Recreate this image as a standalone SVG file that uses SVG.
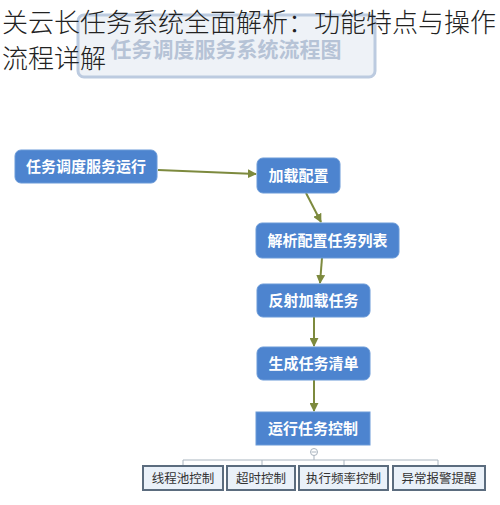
<svg xmlns="http://www.w3.org/2000/svg" width="500" height="505" viewBox="0 0 500 505">
<defs>
<style>
.title{font-family:"Noto Sans CJK SC","Noto Sans",sans-serif;font-size:26px;fill:#222;font-weight:300}
.node rect{fill:#4d84cf;stroke:#6a9ad8;stroke-width:1}
.node text{font-family:"Noto Sans CJK SC",sans-serif;font-size:15px;font-weight:bold;fill:#fff;text-anchor:middle}
.sub rect{fill:#eaf1f9;stroke:#5b6c7e;stroke-width:2}
.sub text{font-family:"Noto Sans CJK SC",sans-serif;font-size:12.5px;fill:#333;text-anchor:middle}
.conn{stroke:#7d8a3e;stroke-width:2;fill:none}
.tree{stroke:#a9b4bf;stroke-width:1;fill:none}
</style>
<marker id="arr" viewBox="0 0 10 10" refX="9" refY="5" markerWidth="9" markerHeight="9" orient="auto" markerUnits="userSpaceOnUse">
<path d="M0,0 L10,5 L0,10 z" fill="#7d8a3e"/>
</marker>
</defs>
<rect width="500" height="505" fill="#fff"/>
<g id="header">
<rect x="78" y="15" width="297" height="62" rx="6" fill="#eef2f7" stroke="#bccbe0" stroke-width="3"/>
<text x="226" y="57" font-family="Noto Sans CJK SC,sans-serif" font-size="21" font-weight="bold" fill="#b6c3d6" text-anchor="middle">任务调度服务系统流程图</text>
</g>
<g id="title">
<text class="title" x="2" y="32">关云长任务系统全面解析：功能特点与操作</text>
<text class="title" x="2" y="68">流程详解</text>
</g>
<g id="connectors">
<line class="conn" x1="158" y1="170" x2="256" y2="174" marker-end="url(#arr)"/>
<line class="conn" x1="306" y1="193" x2="321" y2="222" marker-end="url(#arr)"/>
<line class="conn" x1="322" y1="258" x2="320" y2="283" marker-end="url(#arr)"/>
<line class="conn" x1="314" y1="317" x2="314" y2="346" marker-end="url(#arr)"/>
<line class="conn" x1="314" y1="380" x2="314" y2="411" marker-end="url(#arr)"/>
<path class="tree" d="M183,466 V460 H438 V466 M262,460 V466 M344,460 V466 M314,455 V460"/>
<circle cx="314" cy="452" r="3.5" fill="#fff" stroke="#a9b4bf" stroke-width="1"/>
<line x1="311.5" y1="452" x2="316.5" y2="452" stroke="#a9b4bf" stroke-width="1"/>
</g>
<g id="n1" class="node"><rect x="15" y="150" width="142" height="33" rx="6"/><text x="86" y="172">任务调度服务运行</text></g>
<g id="n2" class="node"><rect x="257" y="158" width="83" height="35" rx="6"/><text x="298.5" y="181">加载配置</text></g>
<g id="n3" class="node"><rect x="256" y="223" width="143" height="35" rx="6"/><text x="327.5" y="246">解析配置任务列表</text></g>
<g id="n4" class="node"><rect x="257" y="284" width="113" height="33" rx="6"/><text x="313.5" y="306">反射加载任务</text></g>
<g id="n5" class="node"><rect x="257" y="347" width="113" height="33" rx="6"/><text x="313.5" y="369">生成任务清单</text></g>
<g id="n6" class="node"><rect x="256" y="412" width="114" height="33" rx="0"/><text x="313" y="434">运行任务控制</text></g>
<g id="s1" class="sub"><rect x="143" y="466" width="80" height="24"/><text x="183" y="483">线程池控制</text></g>
<g id="s2" class="sub"><rect x="227" y="466" width="68" height="24"/><text x="261" y="483">超时控制</text></g>
<g id="s3" class="sub"><rect x="299" y="466" width="89" height="24"/><text x="343.5" y="483">执行频率控制</text></g>
<g id="s4" class="sub"><rect x="393" y="466" width="92" height="24"/><text x="439" y="483">异常报警提醒</text></g>
</svg>
